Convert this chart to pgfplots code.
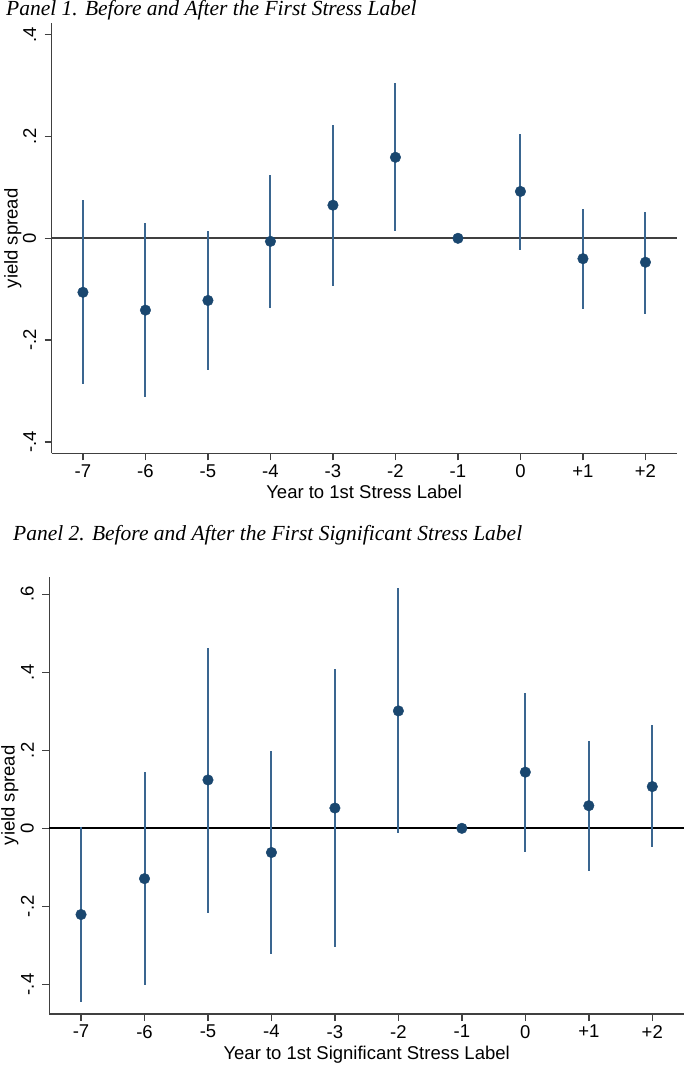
\documentclass[border=0pt]{standalone}
\usepackage{fontspec}
\setmainfont{Liberation Sans}
\newfontfamily\titlefont{Liberation Serif}
\usepackage{pgfplots}
\usepackage{pgfplotstable}
\pgfplotsset{compat=1.18}

\definecolor{navy}{HTML}{1A476F}
\definecolor{cibar}{HTML}{3A6690}
\definecolor{axisgray}{HTML}{404040}

% year, coefficient, lower and upper bound of the CI
\pgfplotstableread{
x y lo hi
-7 -0.106 -0.286 0.076
-6 -0.141 -0.312 0.031
-5 -0.122 -0.259 0.014
-4 -0.006 -0.136 0.125
-3 0.065 -0.093 0.222
-2 0.159 0.014 0.304
-1 0 0 0
0 0.092 -0.022 0.205
1 -0.040 -0.139 0.058
2 -0.047 -0.148 0.052
}\firstlabel

\pgfplotstableread{
x y lo hi
-7 -0.221 -0.446 0.003
-6 -0.129 -0.402 0.144
-5 0.124 -0.216 0.462
-4 -0.062 -0.323 0.198
-3 0.052 -0.305 0.408
-2 0.301 -0.013 0.615
-1 0 0 0
0 0.144 -0.060 0.347
1 0.058 -0.110 0.225
2 0.107 -0.049 0.264
}\signiflabel

\pgfplotsset{
  panel/.style={
    scale only axis,
    anchor=south west,
    xmin=-7.5, xmax=2.5,
    axis x line*=bottom, axis y line*=left,
    axis line style={axisgray, line width=1.5pt, -},
    xtick={-7,...,2},
    xticklabels={-7,-6,-5,-4,-3,-2,-1,0,+1,+2},
    tick align=outside, major tick length=7pt,
    every tick/.style={axisgray, line width=1.5pt},
    tick label style={font=\fontsize{18.5}{20}\selectfont},
    xticklabel style={inner sep=4pt},
    yticklabel style={rotate=90, anchor=south},
    yticklabel shift=5pt,
    label style={font=\fontsize{18.5}{20}\selectfont},
    ylabel={yield spread},
    ylabel style={at={(axis description cs:-0.062,0.5)}, anchor=center},
    clip=false,
  },
  cis/.style={only marks, mark=none,
    error bars/.cd, y dir=both, y explicit, error mark=none,
    error bar style={cibar, line width=2pt}},
  pts/.style={only marks, mark=*, mark size=5.3pt,
    mark options={fill=navy, draw=navy}},
}

\begin{document}
\begin{tikzpicture}
\path[use as bounding box] (0,0) rectangle (685pt,-1065pt);

\node[anchor=base west, inner sep=0pt, font=\titlefont\itshape\fontsize{21.5}{24}\selectfont]
  at (6pt,-16pt) {Panel 1. Before and After the First Stress Label};

\begin{axis}[panel,
    at={(51.7pt,-453.3pt)}, width=625pt, height=430pt,
    ymin=-0.422, ymax=0.422,
    ytick={-0.4,-0.2,0,0.2,0.4}, yticklabels={-.4,-.2,0,.2,.4},
    xlabel={Year to 1st Stress Label},
    xlabel style={at={(axis description cs:0.5,-0.09)}, anchor=center},
  ]
  \addplot[axisgray, line width=2.2pt] coordinates {(-7.5,0) (2.5,0)};
  \addplot[cis] table[x=x, y=y, y error plus expr=\thisrow{hi}-\thisrow{y},
    y error minus expr=\thisrow{y}-\thisrow{lo}] {\firstlabel};
  \addplot[pts] table[x=x, y=y] {\firstlabel};
\end{axis}

\node[anchor=base west, inner sep=0pt, font=\titlefont\itshape\fontsize{21.5}{24}\selectfont]
  at (13pt,-540pt) {Panel 2. Before and After the First Significant Stress Label};

\begin{axis}[panel,
    at={(49.3pt,-1014pt)}, width=634.7pt, height=437.3pt,
    ymin=-0.476, ymax=0.645,
    ytick={-0.4,-0.2,0,0.2,0.4,0.6}, yticklabels={-.4,-.2,0,.2,.4,.6},
    xlabel={Year to 1st Significant Stress Label},
    xlabel style={at={(axis description cs:0.5,-0.094)}, anchor=center},
  ]
  \addplot[black, line width=2.2pt] coordinates {(-7.5,0) (2.5,0)};
  \addplot[cis] table[x=x, y=y, y error plus expr=\thisrow{hi}-\thisrow{y},
    y error minus expr=\thisrow{y}-\thisrow{lo}] {\signiflabel};
  \addplot[pts] table[x=x, y=y] {\signiflabel};
\end{axis}
\end{tikzpicture}
\end{document}
